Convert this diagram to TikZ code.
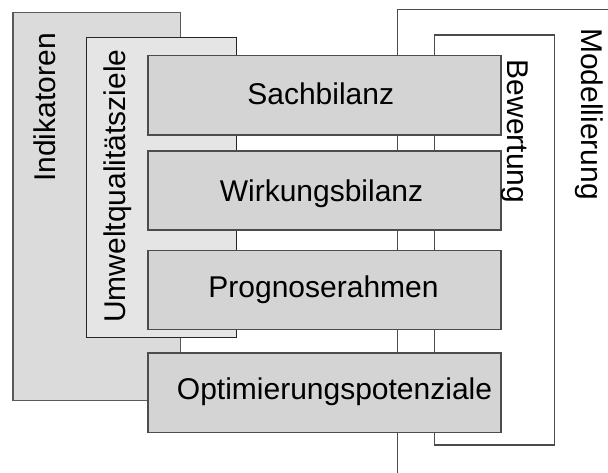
\documentclass[tikz,border=0pt]{standalone}
\usepackage{fontspec}
\setmainfont{Liberation Sans}
\begin{document}
\begin{tikzpicture}[x=1pt,y=-1pt,
  lbl/.style={inner sep=0pt, anchor=base, font=\fontsize{30}{36}\selectfont},
  frame/.style={draw=black!70, line width=1.2pt},
  outerarea/.style={draw=black!65, fill=black!14, line width=1.2pt},
  innerarea/.style={draw=black!85, fill=black!10, line width=1.2pt},
  stage/.style={draw=black!70, fill=black!17, line width=1.5pt}]
  \useasboundingbox (0,0) rectangle (608,472);
  \begin{scope}
    \clip (0,0) rectangle (608,472);
    % modelling and evaluation frames, behind everything
    \draw[frame] (397.3,9.7) rectangle (630,490);
    \draw[frame] (434.3,35) rectangle (554.3,445);
  \end{scope}
  % indicator and quality-target areas
  \draw[outerarea] (13,12.3) rectangle (180.3,400.3);
  \draw[innerarea] (86.7,37.3) rectangle (236.3,337.3);
  % the four stages
  \draw[stage] (148,55.7) rectangle (501,135);
  \draw[stage] (148,151) rectangle (501,230);
  \draw[stage] (148,250.3) rectangle (501,329.3);
  \draw[stage] (148,353) rectangle (501,432.3);
  % labels
  \node[lbl] (sach) at (320.7,104.3) {Sachbilanz};
  \node[lbl] (wirk) at (321.5,201.7) {Wirkungsbilanz};
  \node[lbl] (prog) at (323.5,297.3) {Prognoserahmen};
  \node[lbl] (opt) at (334.5,399) {Optimierungspotenziale};
  \node[lbl, rotate=90] (ind) at (55,107.5) {Indikatoren};
  \node[lbl, rotate=90] (uqz) at (125,186) {Umweltqualitätsziele};
  \node[lbl, rotate=-90] (mod) at (581,114) {Modellierung};
  \node[lbl, rotate=-90] (bew) at (507,131.5) {Bewertung};
\end{tikzpicture}
\end{document}
